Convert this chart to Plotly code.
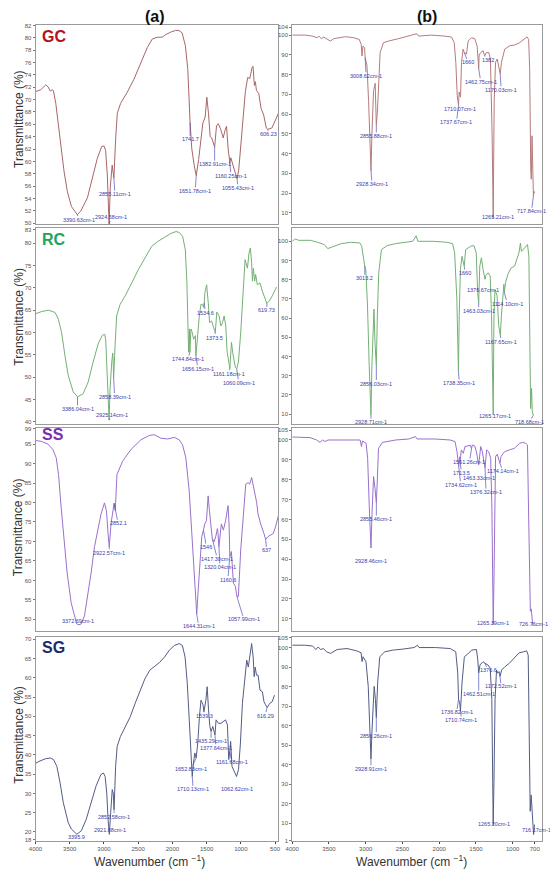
import plotly.graph_objects as go

# ---------------- GC ----------------
gc_a_wn = [
    4000, 3923, 3850, 3815, 3786, 3752, 3738, 3704, 3669, 3631,
    3582, 3534, 3475, 3390.63, 3340, 3242, 3170, 3097, 3034, 3000,
    2976, 2951, 2924.58, 2908, 2880, 2855.11, 2830, 2805, 2757, 2660,
    2562, 2465, 2368, 2295, 2222, 2150, 2101, 2029, 1955, 1906,
    1858, 1810, 1775, 1741.7, 1716, 1682, 1651.78, 1617, 1584, 1555,
    1521, 1497, 1473, 1448, 1424, 1400, 1382.91, 1355, 1330, 1297,
    1258, 1234, 1209, 1185, 1160.25, 1147, 1117, 1084, 1055.43, 1031,
    1007, 968, 934, 899, 870, 836, 822, 802, 787, 773,
    738, 705, 666, 628, 606.23, 547, 499, 450]
gc_a_t = [
    71.3, 71.6, 72.4, 72.05, 71.4, 71.6, 71.4, 69.4, 66.2, 62.5,
    58.3, 55.1, 52.7, 51.4, 51.95, 54.1, 57.3, 60.5, 62.4, 62.5,
    61.8, 57.8, 49.8, 55.8, 59.4, 57.3, 63.5, 67.8, 69.4, 71.2,
    73.3, 76.0, 78.4, 79.8, 80.1, 80.1, 80.5, 80.9, 81.2, 81.2,
    80.8, 78.7, 74.9, 66.3, 62.0, 59.4, 57.7, 60.3, 64.0, 66.2,
    67.2, 70.4, 67.8, 64.0, 63.8, 63.0, 62.3, 65.8, 66.1, 65.3,
    63.8, 64.9, 65.7, 62.0, 59.8, 60.6, 59.4, 58.4, 57.2, 58.6,
    61.8, 67.0, 71.3, 73.6, 73.4, 75.2, 75.4, 72.3, 72.9, 71.5,
    71.0, 68.6, 67.5, 65.4, 65.2, 65.4, 66.7, 67.8]
gc_a_pk_lbl = ["3390.63cm-1", "2924.58cm-1", "2855.11cm-1", "1741.7", "1651.78cm-1",
               "1382.91cm-1", "1160.25cm-1", "1055.43cm-1", "606.23"]
gc_a_pk_wn = [3390.63, 2924.58, 2855.11, 1741.7, 1651.78, 1382.91, 1160.25, 1055.43, 606.23]
gc_a_pk_t = [51.4, 49.8, 57.3, 66.3, 57.7, 62.3, 59.8, 57.2, 65.2]
gc_a_pk_off = [(2, 5), (2, -7), (1, 16), (0, 17), (-1, 15), (0, 17), (1, 13), (1, 9), (1, 5)]

gc_b_wn = [
    4000, 3977, 3819, 3729, 3661, 3638, 3603, 3571, 3526, 3481,
    3435, 3367, 3277, 3164, 3088, 3061, 3051, 3038, 3015, 3008.62,
    2983, 2961, 2939, 2928.34, 2916, 2894, 2872, 2866, 2855.88, 2840,
    2825, 2804, 2758, 2690, 2554, 2419, 2306, 2283, 2103, 1923,
    1832, 1796, 1774, 1755, 1737.67, 1728, 1710.07, 1697, 1675, 1660,
    1629, 1606, 1561, 1516, 1484, 1462.75, 1457, 1434, 1402, 1382,
    1357, 1326, 1303, 1280, 1265.21, 1252, 1234, 1211, 1184, 1170.03,
    1153, 1108, 1041, 973, 905, 837, 805, 783, 769, 755,
    747, 737, 717.84, 711, 703]
gc_b_t = [
    100, 100, 100, 99.5, 98.7, 99.5, 98.2, 99.0, 97.8, 97.0,
    98.2, 98.8, 99.2, 98.7, 97.8, 95.2, 89.4, 94.4, 93.6, 88.6,
    84.6, 66.4, 42.9, 31.2, 49.7, 71.5, 75.6, 70.0, 54.5, 62.0,
    74.7, 91.2, 96.2, 97.0, 98.2, 99.5, 100.7, 99.5, 100, 99.5,
    99.0, 96.2, 86.2, 69.5, 64.5, 71.2, 68.6, 86.2, 92.9, 91.2,
    90.4, 97.0, 98.7, 98.2, 94.4, 83.0, 89.9, 91.2, 92.1, 89.4,
    91.2, 91.2, 87.9, 49.7, 7.4, 66.4, 86.2, 87.9, 83.7, 80.4,
    86.2, 92.9, 94.6, 95.0, 96.2, 98.5, 99.1, 97.8, 83.0, 32.9,
    27.0, 49.0, 18.4, 20.9, 20.0]
gc_b_pk_lbl = ["3008.62cm-1", "2928.34cm-1", "2855.88cm-1", "1737.67cm-1", "1710.07cm-1",
               "1660", "1462.75cm-1", "1382", "1265.21cm-1", "1170.03cm-1", "717.84cm-1"]
gc_b_pk_wn = [3008.62, 2928.34, 2855.88, 1737.67, 1710.07, 1660, 1462.75, 1382, 1265.21, 1170.03, 717.84]
gc_b_pk_t = [88.6, 31.2, 54.5, 64.5, 68.6, 91.2, 83.0, 89.4, 7.4, 80.4, 18.4]
gc_b_pk_off = [(1, 18), (1, 13), (0, 11), (-2, 17), (-1, 12), (4, 10), (2, 13), (3, 4), (5, -1), (1, 16), (-2, 15)]

# ---------------- RC ----------------
rc_a_wn = [
    4000, 3910, 3812, 3715, 3667, 3619, 3570, 3522, 3449, 3386.04,
    3304, 3231, 3158, 3086, 3023, 2988, 2974, 2955, 2940, 2925.14,
    2911, 2886, 2872, 2865, 2858.39, 2840, 2815, 2764, 2691, 2594,
    2497, 2400, 2303, 2213, 2114, 2020, 1947, 1898, 1850, 1811,
    1788, 1773, 1763, 1752, 1744.84, 1729, 1714, 1690, 1665, 1656.15,
    1632, 1607, 1583, 1558, 1545, 1534.6, 1525, 1500, 1476, 1457,
    1428, 1403, 1373.5, 1351, 1317, 1292, 1268, 1244, 1220, 1200,
    1185, 1172, 1161.18, 1150, 1137, 1120, 1100, 1080, 1060.09, 1035,
    1002, 967, 938, 904, 880, 861, 842, 831, 817, 798,
    784, 759, 720, 687, 660, 619.73, 589, 541, 478]
rc_a_t = [
    64.2, 64.7, 65.0, 64.5, 63.0, 60.0, 54.8, 50.4, 46.7, 45.6,
    46.3, 48.9, 53.4, 57.4, 59.4, 59.6, 58.2, 52.6, 45.9, 40.4,
    47.4, 53.4, 55.4, 53.0, 49.7, 56.3, 63.7, 66.3, 68.2, 71.1,
    74.1, 76.7, 79.3, 80.4, 81.3, 82.2, 82.6, 82.4, 81.5, 78.5,
    71.1, 63.7, 55.6, 60.8, 55.6, 60.8, 60.2, 58.5, 59.3, 54.8,
    59.3, 63.7, 66.3, 66.3, 65.6, 66.7, 68.9, 70.7, 66.7, 62.2,
    62.6, 61.1, 60.0, 64.6, 63.7, 61.5, 62.2, 63.7, 61.5, 55.6,
    53.4, 53.0, 51.9, 56.3, 57.8, 55.6, 53.4, 52.2, 51.9, 53.4,
    60.0, 69.6, 76.3, 74.4, 77.8, 78.9, 75.6, 71.5, 74.4, 71.5,
    73.0, 70.7, 71.1, 69.3, 68.0, 66.5, 67.0, 68.2, 70.2]
rc_a_pk_lbl = ["3386.04cm-1", "2925.14cm-1", "2858.39cm-1", "1744.84cm-1", "1656.15cm-1",
               "1534.6", "1373.5", "1161.18cm-1", "1060.09cm-1", "619.73"]
rc_a_pk_wn = [3386.04, 2925.14, 2858.39, 1744.84, 1656.15, 1534.6, 1373.5, 1161.18, 1060.09, 619.73]
rc_a_pk_t = [45.6, 40.4, 49.7, 55.6, 54.8, 66.7, 60.0, 51.9, 51.9, 66.5]
rc_a_pk_off = [(0, 12), (3, -5), (1, 18), (-2, 7), (2, 13), (1, 10), (-1, 5), (-1, 5), (2, 14), (0, 7)]

rc_b_wn = [
    4000, 3958, 3912, 3750, 3657, 3565, 3518, 3448, 3333, 3194,
    3078, 3055, 3031, 3013.2, 2999, 2976, 2953, 2928.71, 2916, 2898,
    2888, 2874, 2856.03, 2842, 2823, 2786, 2707, 2592, 2453, 2360,
    2314, 2291, 2082, 1897, 1818, 1790, 1760, 1738.35, 1728, 1712,
    1690, 1675, 1660, 1640, 1574, 1528, 1496, 1477, 1463.03, 1448,
    1426, 1403, 1376.67, 1366, 1334, 1306, 1288, 1265.17, 1255, 1241,
    1213, 1190, 1167.65, 1154, 1135, 1120, 1114.10, 1098, 1066, 1020,
    974, 937, 915, 895, 882, 835, 798, 780, 766, 756,
    743, 734, 718.68]
rc_b_t = [
    100, 101.2, 100.5, 100.5, 99.5, 98.3, 96.2, 97.1, 98.8, 99.5,
    99.1, 97.4, 90.5, 87.1, 85.3, 66.4, 35.3, 9.5, 35.3, 62.9,
    64.7, 47.4, 35.3, 61.2, 83.6, 95.7, 97.8, 98.8, 99.5, 100,
    102.9, 100, 100, 99.5, 98.8, 94.0, 69.8, 31.9, 61.2, 85.3,
    92.2, 88.8, 87.1, 95.7, 97.4, 97.8, 94.0, 73.3, 68.1, 87.1,
    91.4, 85.3, 80.2, 82.2, 83.6, 81.9, 61.2, 9.5, 61.2, 75.0,
    71.6, 56.0, 50.9, 61.2, 74.0, 77.6, 73.3, 78.4, 82.8, 86.2,
    87.1, 91.4, 94.0, 99.1, 94.8, 96.6, 98.3, 92.2, 52.6, 12.9,
    23.3, 11.2, 9.5]
rc_b_pk_lbl = ["3013.2", "2928.71cm-1", "2856.03cm-1", "1738.35cm-1", "1660", "1463.03cm-1",
               "1376.67cm-1", "1265.17cm-1", "1167.65cm-1", "1114.10cm-1", "718.68cm-1"]
rc_b_pk_wn = [3013.2, 2928.71, 2856.03, 1738.35, 1660, 1463.03, 1376.67, 1265.17, 1167.65, 1114.10, 718.68]
rc_b_pk_t = [87.1, 9.5, 35.3, 31.9, 87.1, 68.1, 80.2, 9.5, 50.9, 73.3, 9.5]
rc_b_pk_off = [(0, 12), (0, 7), (0, 18), (1, 11), (1, 7), (0, 8), (-2, 11), (2, 1), (1, 6), (3, 11), (-4, 7)]

# ---------------- SS ----------------
ss_a_wn = [
    4000, 3917, 3819, 3747, 3698, 3664, 3626, 3586, 3538, 3480,
    3431, 3400, 3372.69, 3334, 3285, 3237, 3188, 3139, 3091, 3042,
    2993, 2964, 2940, 2922.57, 2897, 2872, 2852.1, 2835, 2810, 2727,
    2606, 2460, 2338, 2265, 2169, 2071, 1973, 1901, 1852, 1804,
    1755, 1716, 1681, 1658, 1644.31, 1623, 1594, 1571, 1546, 1527,
    1502, 1478, 1459, 1434, 1417.30, 1391, 1367, 1343, 1335, 1320.04,
    1285, 1255, 1222, 1187, 1172, 1160.6, 1138, 1109, 1080, 1057.99,
    1036, 1002, 962, 928, 894, 871, 842, 817, 793, 769,
    749, 711, 662, 637, 600, 566, 527, 494, 444]
ss_a_t = [
    95.9, 95.7, 95.0, 93.6, 91.5, 87.2, 78.8, 70.3, 61.9, 54.3,
    50.9, 48.9, 48.6, 48.8, 50.9, 55.9, 61.9, 68.6, 72.9, 77.1,
    79.9, 77.9, 72.0, 68.6, 74.5, 78.3, 79.8, 77.9, 87.2, 90.6,
    93.6, 96.1, 97.2, 97.4, 96.5, 96.3, 96.7, 96.1, 94.8, 91.5,
    83.0, 72.0, 61.9, 55.1, 51.3, 57.6, 66.1, 71.2, 72.9, 74.5,
    75.4, 81.7, 77.9, 72.9, 70.7, 69.9, 71.2, 73.3, 72.5, 68.6,
    74.5, 72.9, 75.4, 79.2, 74.5, 66.1, 67.4, 59.3, 58.5, 55.9,
    55.9, 67.8, 77.9, 84.7, 85.1, 84.7, 86.4, 84.3, 81.7, 80.0,
    77.1, 74.5, 72.0, 70.5, 71.3, 71.6, 72.0, 73.7, 77.1]
ss_a_pk_lbl = ["3372.69cm-1", "2922.57cm-1", "2852.1", "1644.31cm-1", "1546",
               "1417.30cm-1", "1320.04cm-1", "1160.6", "1057.99cm-1", "637"]
ss_a_pk_wn = [3372.69, 2922.57, 2852.1, 1644.31, 1546, 1417.30, 1320.04, 1160.6, 1057.99, 637]
ss_a_pk_t = [48.6, 68.6, 79.8, 51.3, 72.9, 70.7, 68.6, 66.1, 55.9, 70.5]
ss_a_pk_off = [(0, -4), (0, 6), (4, 20), (2, 12), (3, 17), (5, 20), (1, 20), (-2, 23), (7, 23), (1, 11)]

ss_b_wn = [
    4000, 3892, 3758, 3668, 3623, 3587, 3556, 3512, 3399, 3220,
    3076, 3058, 3044, 2995, 2974, 2951, 2937, 2928.46, 2915, 2893,
    2874, 2855.46, 2845, 2826, 2772, 2592, 2413, 2324, 2302, 2059,
    1852, 1785, 1758, 1745, 1734.62, 1724, 1713.5, 1700, 1673, 1650,
    1606, 1575, 1561.26, 1550, 1516, 1494, 1463.33, 1450, 1435, 1413,
    1376.32, 1365, 1354, 1327, 1300, 1283, 1274, 1265.39, 1256, 1247,
    1233, 1211, 1193, 1174.14, 1160, 1112, 1045, 978, 907, 866,
    821, 799, 785, 772, 760, 748, 738, 726.76]
ss_b_t = [
    101.5, 101.3, 101.2, 100, 98.8, 100, 99.2, 100, 100, 100,
    100, 96.7, 99.5, 98.3, 90.8, 65.7, 52.3, 45.6, 62.4, 81.6,
    75.7, 68.2, 77.4, 95.8, 98.8, 100, 100.5, 101.7, 100.5, 100.5,
    100, 99.2, 94.1, 90.0, 86.6, 91.5, 89.5, 95.0, 93.3, 96.7,
    97.2, 97.3, 95.5, 97.5, 97.0, 94.1, 87.5, 91.6, 96.7, 94.1,
    85.8, 90.8, 95.0, 94.1, 90.8, 65.7, 27.2, 7.1, 27.2, 65.7,
    91.6, 92.8, 90.8, 88.3, 91.6, 94.1, 95.0, 95.8, 98.3, 98.8,
    98.3, 97.5, 65.7, 23.9, 13.8, 15.0, 11.0, 6.5]
ss_b_pk_lbl = ["2928.46cm-1", "2855.46cm-1", "1734.62cm-1", "1713.5", "1561.26cm-1",
               "1463.33cm-1", "1376.32cm-1", "1265.39cm-1", "1174.14cm-1", "726.76cm-1"]
ss_b_pk_wn = [2928.46, 2855.46, 1734.62, 1713.5, 1561.26, 1463.33, 1376.32, 1265.39, 1174.14, 726.76]
ss_b_pk_t = [45.6, 68.2, 86.6, 89.5, 95.5, 87.5, 85.8, 7.1, 88.3, 6.5]
ss_b_pk_off = [(0, 13), (0, 16), (2, 18), (1, 12), (-2, 13), (0, 13), (1, 24), (0, -2), (3, 8), (1, -2)]

# ---------------- SG ----------------
sg_a_wn = [
    4000, 3951, 3856, 3784, 3737, 3688, 3641, 3594, 3522, 3474,
    3395.9, 3331, 3259, 3188, 3116, 3045, 3008, 2983, 2959, 2940,
    2921.88, 2902, 2879, 2865, 2852.58, 2830, 2807, 2759, 2687, 2616,
    2544, 2473, 2401, 2330, 2258, 2187, 2115, 2044, 1972, 1901,
    1854, 1815, 1782, 1749, 1729, 1710.13, 1692, 1673, 1652.83, 1629,
    1605, 1582, 1553, 1539.3, 1511, 1492, 1472, 1453, 1435.29, 1410,
    1377.64, 1362, 1327, 1289, 1260, 1224, 1196, 1177, 1161.68, 1149,
    1129, 1100, 1077, 1062.62, 1034, 1006, 977, 948, 914, 891,
    866, 842, 820, 805, 791, 771, 748, 720, 685, 662,
    638, 616.29, 576, 542, 509]
sg_a_t = [
    37.8, 38.3, 39.0, 39.2, 38.8, 37.0, 32.7, 27.6, 22.4, 20.7,
    19.4, 20.3, 23.3, 27.6, 31.9, 34.9, 35.3, 34.4, 30.1, 23.3,
    19.4, 25.0, 31.0, 30.1, 25.8, 37.0, 42.2, 44.8, 47.4, 49.9,
    53.4, 56.8, 59.8, 62.0, 63.1, 64.0, 65.4, 67.2, 68.4, 68.9,
    68.4, 65.4, 58.5, 47.4, 38.8, 34.4, 37.9, 40.5, 39.2, 43.1,
    49.9, 54.2, 53.0, 51.2, 54.2, 57.7, 51.7, 47.4, 46.1, 47.4,
    45.2, 49.1, 48.2, 48.2, 48.6, 49.1, 47.8, 38.8, 40.9, 43.5,
    37.0, 35.7, 34.9, 34.4, 36.2, 43.1, 53.4, 58.5, 64.6, 62.8,
    66.7, 68.9, 65.4, 60.3, 62.8, 60.7, 60.7, 56.8, 56.4, 53.8,
    53.0, 52.3, 53.4, 53.8, 55.5]
sg_a_pk_lbl = ["3395.9", "2921.88cm-1", "2852.58cm-1", "1710.13cm-1", "1652.83cm-1", "1539.3",
               "1435.29cm-1", "1377.64cm-1", "1161.68cm-1", "1062.62cm-1", "616.29"]
sg_a_pk_wn = [3395.9, 2921.88, 2852.58, 1710.13, 1652.83, 1539.3, 1435.29, 1377.64, 1161.68, 1062.62, 616.29]
sg_a_pk_t = [19.4, 19.4, 25.8, 34.4, 39.2, 51.2, 46.1, 45.2, 40.9, 34.4, 52.3]
sg_a_pk_off = [(0, 3), (1, -4), (0, 7), (1, 13), (-5, 11), (1, 4), (0, 10), (1, 13), (2, 11), (0, 13), (-2, 8)]

sg_b_wn = [
    4000, 3835, 3723, 3679, 3648, 3612, 3576, 3532, 3478, 3389,
    3255, 3121, 3063, 3050, 3037, 2997, 2966, 2943, 2928.91, 2916,
    2885, 2868, 2856.26, 2838, 2809, 2742, 2631, 2497, 2341, 2297,
    2274, 2051, 1850, 1775, 1748, 1736.82, 1722, 1710.74, 1690, 1658,
    1614, 1560, 1493, 1475, 1462.51, 1445, 1404, 1376.6, 1337, 1306,
    1284, 1272, 1265.20, 1255, 1240, 1220, 1204, 1186, 1172.52, 1150,
    1106, 1047, 980, 913, 856, 811, 789, 775, 762, 749,
    735, 716.17, 704]
sg_b_t = [
    101.2, 101.2, 100.8, 99.0, 100.3, 99.0, 99.5, 97.8, 97.0, 99.0,
    99.5, 98.3, 97.3, 92.8, 95.3, 92.8, 80.1, 56.5, 43.0, 56.5,
    80.1, 73.4, 64.1, 81.8, 95.3, 97.8, 98.7, 99.2, 100, 101.2,
    100, 100, 99.5, 97.8, 86.9, 73.4, 71.7, 67.5, 81.8, 95.3,
    96.6, 98.7, 99.0, 93.6, 86.9, 91.1, 92.8, 91.9, 91.1, 89.4,
    73.4, 31.2, 9.3, 31.2, 73.4, 88.5, 86.9, 87.7, 85.2, 88.5,
    90.2, 91.9, 94.4, 97.3, 97.8, 98.3, 96.1, 64.9, 16.1, 24.5,
    15.2, 4.3, 9.3]
sg_b_pk_lbl = ["2928.91cm-1", "2856.26cm-1", "1736.82cm-1", "1710.74cm-1", "1462.51cm-1",
               "1376.6", "1265.20cm-1", "1172.52cm-1", "716.17cm-1"]
sg_b_pk_wn = [2928.91, 2856.26, 1736.82, 1710.74, 1462.51, 1376.6, 1265.20, 1172.52, 716.17]
sg_b_pk_t = [43.0, 64.1, 73.4, 67.5, 86.9, 91.9, 9.3, 85.2, 4.3]
sg_b_pk_off = [(0, 10), (0, 18), (-2, 13), (1, 9), (0, 21), (3, 7), (1, -1), (1, 10), (3, -4)]

# y ticks per panel
gc_a_ticks = list(range(50, 83, 2))
gc_b_ticks = list(range(10, 101, 10)) + [104]
rc_a_ticks = list(range(40, 81, 5)) + [83]
rc_b_ticks = list(range(10, 101, 10)) + [107]
ss_a_ticks = [47] + list(range(50, 96, 5)) + [99]
ss_b_ticks = list(range(10, 101, 10)) + [105]
sg_a_ticks = [18] + list(range(20, 71, 5))
sg_b_ticks = [1] + list(range(10, 101, 10)) + [105]

left_xticks = [4000, 3500, 3000, 2500, 2000, 1500, 1000, 500]
right_xticks = [4000, 3500, 3000, 2500, 2000, 1500, 1000, 700]

# layout in pixels (figure is 550 x 875)
W, H = 550, 875
rows_px = [(22, 223), (227, 424), (428, 632), (638, 844)]
cols_px = [(29, 276), (290, 544)]

panels = [
    # name, wn, t, pk_wn, pk_t, pk_lbl, pk_off, colour, row, col, yrange, yticks
    ("GC", gc_a_wn, gc_a_t, gc_a_pk_wn, gc_a_pk_t, gc_a_pk_lbl, gc_a_pk_off, "#a86666", 0, 0, [49.8, 82.1], gc_a_ticks),
    ("", gc_b_wn, gc_b_t, gc_b_pk_wn, gc_b_pk_t, gc_b_pk_lbl, gc_b_pk_off, "#b57b7b", 0, 1, [4.1, 105.2], gc_b_ticks),
    ("RC", rc_a_wn, rc_a_t, rc_a_pk_wn, rc_a_pk_t, rc_a_pk_lbl, rc_a_pk_off, "#74b074", 1, 0, [39.5, 83.3], rc_a_ticks),
    ("", rc_b_wn, rc_b_t, rc_b_pk_wn, rc_b_pk_t, rc_b_pk_lbl, rc_b_pk_off, "#74b074", 1, 1, [4.8, 106.7], rc_b_ticks),
    ("SS", ss_a_wn, ss_a_t, ss_a_pk_wn, ss_a_pk_t, ss_a_pk_lbl, ss_a_pk_off, "#9a70cc", 2, 0, [47.1, 99.1], ss_a_ticks),
    ("", ss_b_wn, ss_b_t, ss_b_pk_wn, ss_b_pk_t, ss_b_pk_lbl, ss_b_pk_off, "#9a70cc", 2, 1, [4.0, 106.0], ss_b_ticks),
    ("SG", sg_a_wn, sg_a_t, sg_a_pk_wn, sg_a_pk_t, sg_a_pk_lbl, sg_a_pk_off, "#535c86", 3, 0, [17.6, 70.7], sg_a_ticks),
    ("", sg_b_wn, sg_b_t, sg_b_pk_wn, sg_b_pk_t, sg_b_pk_lbl, sg_b_pk_off, "#535c86", 3, 1, [0.8, 105.6], sg_b_ticks),
]
name_colors = {"GC": "#b5121b", "RC": "#1ea35a", "SS": "#7a2fa8", "SG": "#1c2a6b"}
name_ypos = {"GC": 0.943, "RC": 0.942, "SS": 0.966, "SG": 0.947}

FONT = "Liberation Sans, Arial, sans-serif"
LBL_BLUE = "#3a3aa8"

fig = go.Figure()
annotations = []
for i, (name, wn, t, pwn, pt, plbl, poff, color, r, c, yr, yt) in enumerate(panels, start=1):
    assert len(wn) == len(t), name + str(i)
    assert len(pwn) == len(pt) == len(plbl) == len(poff), name + str(i)
    sfx = "" if i == 1 else str(i)
    xa, ya = "x" + sfx, "y" + sfx
    fig.add_trace(go.Scatter(x=wn, y=t, mode="lines", line=dict(color=color, width=1),
                             xaxis=xa, yaxis=ya, showlegend=False, hoverinfo="skip"))
    x0, x1 = cols_px[c]
    y0, y1 = rows_px[r]
    bottom = r == 3
    fig.update_layout({
        "xaxis" + sfx: dict(
            domain=[x0 / W, x1 / W], anchor=ya,
            range=[4000, 450] if c == 0 else [4000, 600],
            tickvals=(left_xticks if c == 0 else right_xticks) if bottom else [],
            showticklabels=bottom, ticks="outside" if bottom else "", ticklen=2,
            tickfont=dict(size=6, color="#555"),
            showline=True, mirror=True, linecolor="#9a9a9a", linewidth=1,
            showgrid=False, zeroline=False),
        "yaxis" + sfx: dict(
            domain=[1 - y1 / H, 1 - y0 / H], anchor=xa, range=yr,
            tickvals=yt, ticks="outside", ticklen=2, tickcolor="#777",
            tickfont=dict(size=6, color="#555"),
            showline=True, mirror=True, linecolor="#9a9a9a", linewidth=1,
            showgrid=False, zeroline=False),
    })
    for w_, t_, l_, (dx, dy) in zip(pwn, pt, plbl, poff):
        annotations.append(dict(
            x=w_, y=t_, xref=xa, yref=ya, text=l_, showarrow=True, arrowhead=0,
            arrowwidth=0.7, arrowcolor="#5050c0", ax=dx, ay=dy, standoff=0,
            font=dict(size=5.5, color=LBL_BLUE, family=FONT), borderpad=0))
    if name:
        annotations.append(dict(
            x=0.02, y=name_ypos[name], xref=xa + " domain", yref=ya + " domain",
            text="<b>" + name + "</b>", showarrow=False, xanchor="left", yanchor="middle",
            font=dict(size=16, color=name_colors[name], family=FONT)))
        # y title for each row
        yc = 1 - {0: 117, 1: 316, 2: 528, 3: 737}[r] / H
        annotations.append(dict(
            x=12 / W, y=yc, xref="paper", yref="paper", text="Transmittance (%)",
            textangle=-90, showarrow=False, xanchor="center", yanchor="middle",
            font=dict(size=12, color="#333", family=FONT)))

# column titles
for txt, xc in [("(a)", 150), ("(b)", 427)]:
    annotations.append(dict(x=xc / W, y=1 - 14 / H, xref="paper", yref="paper",
                            text="<b>" + txt + "</b>", showarrow=False,
                            xanchor="center", yanchor="middle",
                            font=dict(size=16, color="#111", family=FONT)))
# x titles
for xc in [145, 411]:
    annotations.append(dict(x=xc / W, y=1 - 864 / H, xref="paper", yref="paper",
                            text="Wavenumber (cm <sup>\u22121</sup>)", showarrow=False,
                            xanchor="center", yanchor="middle",
                            font=dict(size=12, color="#333", family=FONT)))

fig.update_layout(
    width=W, height=H,
    margin=dict(l=0, r=0, t=0, b=0),
    paper_bgcolor="white", plot_bgcolor="white",
    font=dict(family=FONT),
    annotations=annotations,
)

# page body margin would shift the 550x875 figure off the window
fig.write_html("out.html", config={"displayModeBar": False},
               post_script="document.body.style.margin='0px';")
